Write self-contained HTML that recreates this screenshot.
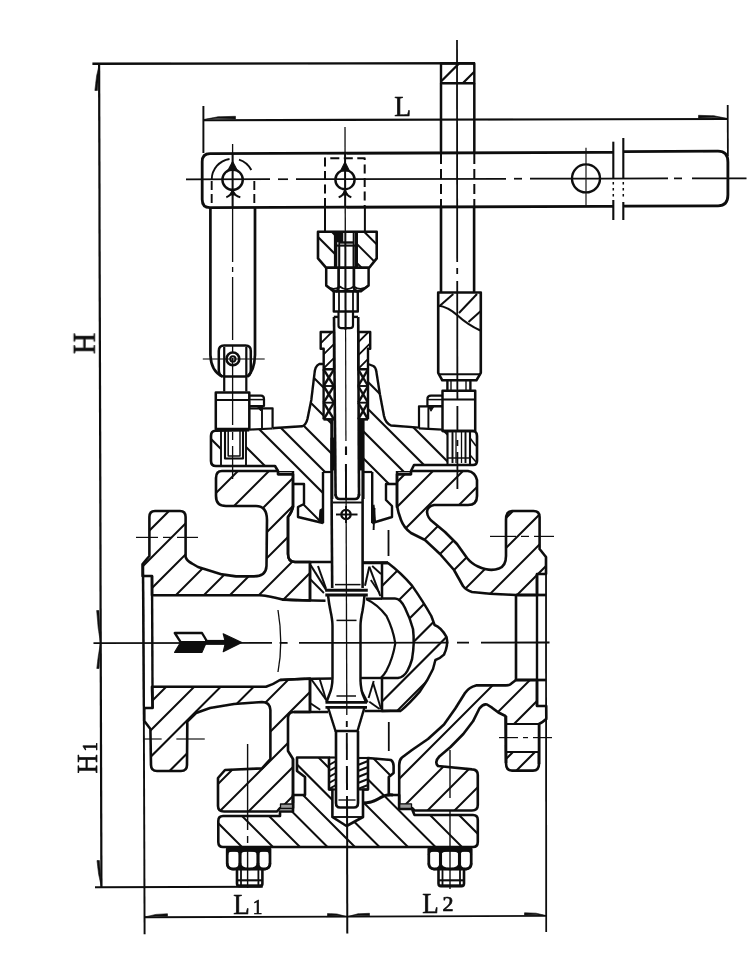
<!DOCTYPE html><html><head><meta charset="utf-8"><title>Valve drawing</title><style>html,body{margin:0;padding:0;background:#fff;}body{width:750px;height:967px;overflow:hidden;font-family:"Liberation Serif",serif;}svg{display:block;will-change:transform;}text{stroke:#0c0c0c;stroke-width:0.7px;fill:#0c0c0c;}g.t{opacity:0.999;}</style></head><body><svg width="750" height="967" viewBox="0 0 750 967" fill="none" stroke="#0c0c0c" stroke-linecap="butt" stroke-linejoin="round" font-family="'Liberation Serif', serif"><defs><filter id="soft" x="0" y="0" width="750" height="967" filterUnits="userSpaceOnUse"><feGaussianBlur stdDeviation="0.38"/></filter><clipPath id="c1"><path d="M318 231.7L335.6 231.7L335.6 267.8L326.2 267.8L318 258.4Z"/></clipPath><clipPath id="c2"><path d="M356.5 231.7L376.7 231.7L376.7 258.4L369.2 267.8L356.5 267.8Z"/></clipPath><clipPath id="c3"><path d="M320.7 332L334 332L334 369.3L323.7 369.3L323.7 348.7L320.7 348.7Z"/></clipPath><clipPath id="c4"><path d="M358.2 332L370.2 332L370.2 348.7L368 348.7L368 369.3L358.2 369.3Z"/></clipPath><clipPath id="c5"><path d="M441 63.5L474.3 63.5L474.3 83.3L441 83.3Z"/></clipPath><clipPath id="c6"><path d="M319.3 364Q315 366 314.5 373.3L311.3 400L307.5 418.7Q306 425 302 426.3L275 428L272.6 428.5L249.3 429.5L246 430.5L246 466L275 466L278 471L293 471L293 484L304 484L304 504L298 507L298 517L323 523L323 472L331.8 472L331.8 419.3L323.6 419.3L323.6 364Z"/></clipPath><clipPath id="c7"><path d="M221 430.5L215.5 430.8Q211 431 211 436L211 461Q211 466 216 466L221 466Z"/></clipPath><clipPath id="c8"><path d="M368.7 364L373.3 366Q376 367.5 376.4 372L380 394.7L384 416Q385.5 423 391 425.5L419 427.6L444 429.5L447 430.5L447 465L414 465L411 471L397 471L397 484L386 484L386 500L392 506L392 517L372.2 523L372.2 472L363 472L363 419.3L368 419.3Z"/></clipPath><clipPath id="c9"><path d="M222 471L278 471L278 474.3L293 474.3L293 506Q292.5 511 288 517L288 554Q288 562 295 562L310 562L310 600.5L282.5 599.6Q270 596 260 595.3L152 595.3L152 576L142.6 576L142.6 564L149.4 556L149.4 517Q149.4 511 155 511L180 511Q185.6 511 185.6 517L185.6 557Q187 561 192 563.5L198 567L222 574.4L236 576.4L254 576.4Q266 576.4 266.5 566L267 520Q267 506 256 506L226 506Q216 506 216 496L216 478Q216 471 222 471Z"/></clipPath><clipPath id="c10"><path d="M152 686.8L266 686.8Q274 684 280 680L310 678.5L310 712L294 712Q288 712 288 718L288 751L293 759L293 808L280 808L277 811.5L224 811.5Q218 811.5 218 806L218 778L225 770L262 768.4L270.4 759L270.4 710Q270 702 262 702L234 704L210 708L196 713L187.3 721.5L187 765Q187 771 181 771L157 771Q151 771 151 765L150.4 729L144.3 721L144.3 708L152.6 708Z"/></clipPath><clipPath id="c11"><path d="M397 474.3L411 474.3L411 471L468 471Q475 472 477 480L477 496Q477 505 468 505L434 505Q427.5 506 427 512Q427.5 518 433 522L445 532L457 544L467 558Q472 564 478 566.5Q490 572 499 568.5Q506 566 506 556L506 520Q506 511 512 511L533.5 511Q539.6 511 539.6 517L539.6 549L546 557L546 574L537 574L537 595L516 595L490 593.8L472 592Q466 590 463 586L454 570L440 554L425 540L411 533Q404 528 401 520Q398 512 397 506Z"/></clipPath><clipPath id="c12"><path d="M516 680L512 683Q510 685.4 506 685.4L476 685.4Q469 687 465 693L455.3 708.5L444 724.5L428 739L412 750L402 757.5Q399.2 760 399.2 765L399.2 808L412 808L414.5 810.5L472 810.5Q477.8 810.5 477.8 805L477.8 775Q477.8 769.6 472 769.4L438 766Q434 762 439.3 756.5L450.5 747L463.3 734L473 721.3L479.4 708.5Q483 703.5 487 704.5L492 707.7Q498 713 505.5 716L506 763Q506 770.6 512 770.6L533 770.6Q539 770.6 539 764L539 724Q543 722 546.3 719L546.2 706L537 706L537 680Z"/></clipPath><clipPath id="c13"><path d="M382 563L388 563Q401 572.8 412 585.6Q423.3 601.7 431.3 616L434.6 625Q441 627.3 446.6 637Q448.5 645 444 654.6Q440 658.5 435.4 660L433 669Q428 680 420 691.4Q409 704 401 710.6L382 711L382 678L398 678Q404 677 407.3 671Q410.5 665 412 659.4Q414.8 643.3 413 629Q410 618 405 608Q400.5 598.5 395 598.5L382 598.5Z"/></clipPath><clipPath id="c14"><path d="M223 816L280 816L280 811.5L293 811.5L293 795L305 795L305 777L297 771L297 757.5L329 757.5L329 789.5L332.4 789.5L332.4 817L346.5 826L363 817L363 789.5L368 789.5L368 758L391 760Q393.6 762 393.6 766L393.6 773L388.8 777L388.8 795L399.2 795L399.2 809L412 809L414.5 815L473 815Q477.8 815 477.8 820L477.8 842Q477.8 847 473 847L223 847Q218.3 847 218.3 842L218.3 821Q218.3 816 223 816Z"/></clipPath></defs><rect x="0" y="0" width="750" height="967" fill="#fff" stroke="none"/><g filter="url(#soft)"><path d="M92.4 63.8L475 63.2" stroke-width="2.4" />
<path d="M99.1 63.7L101.4 887.3" stroke-width="2.2" />
<path d="M95 887.3L262.7 886.8" stroke-width="2" />
<path d="M99.4 64L97.4 90.5L94.9 90.5L96.6 76Z" fill="#0c0c0c" stroke-width="0.6" />
<path d="M101.4 887L99.4 860.5L97 860.5L98.6 874Z" fill="#0c0c0c" stroke-width="0.6" />
<path d="M100.5 643L98.9 610.5L96.7 610.5L98.2 628Z" fill="#0c0c0c" stroke-width="0.6" />
<path d="M100.5 643L99 668.5L96.8 668.5L98.3 656Z" fill="#0c0c0c" stroke-width="0.6" />
<path d="M203.3 120.2L727.7 119" stroke-width="2.1" />
<path d="M203.4 106L203.4 153" stroke-width="1.9" />
<path d="M727.7 105L727.9 156" stroke-width="1.8" />
<path d="M203.5 119.6L218 118.6L235.5 118.9L235.5 116.3L218 116.8Z" fill="#0c0c0c" stroke-width="0.6" />
<path d="M727.5 118.5L714 117.6L698.5 118L698.5 115.3L714 115.8Z" fill="#0c0c0c" stroke-width="0.6" />
<path d="M144.5 917.3L546.2 915.9" stroke-width="1.9" />
<path d="M144.7 917L156 916L167.5 916.3L167.5 913.8L156 914.4Z" fill="#0c0c0c" stroke-width="0.6" />
<path d="M346.8 916.6L337 915.8L327.5 916L327.5 913.6L337 914Z" fill="#0c0c0c" stroke-width="0.6" />
<path d="M347.4 916.6L358 915.6L369.5 915.8L369.5 913.3L358 913.8Z" fill="#0c0c0c" stroke-width="0.6" />
<path d="M546 915.6L536 914.8L524.5 915.1L524.5 912.8L536 913.2Z" fill="#0c0c0c" stroke-width="0.6" />
<path d="M143.3 564L144.6 934.3" stroke-width="1.9" />
<path d="M142.8 564L144 721" stroke-width="2.2" />
<path d="M546 557L546.2 932" stroke-width="1.8" />
<text x="0" y="0" font-size="30.5" transform="translate(394.3 115.8) scale(0.9 1)">L</text>
<text x="0" y="0" font-size="30" transform="translate(233.3 913.9) scale(0.9 1)">L</text>
<text x="0" y="0" font-size="21.5" transform="translate(252.8 913.9) scale(0.9 1)">1</text>
<text x="0" y="0" font-size="30" transform="translate(422.2 912.5) scale(0.9 1)">L</text>
<text x="0" y="0" font-size="20" transform="translate(442.6 910.6) scale(1.1 1)">2</text>
<text x="0" y="0" font-size="32.6" transform="translate(94.8 354) rotate(-90) scale(0.9 1)">H</text>
<text x="0" y="0" font-size="29.6" transform="translate(97.4 773.4) rotate(-90) scale(0.9 1)">H</text>
<text x="0" y="0" font-size="20.7" transform="translate(96.5 751.5) rotate(-90) scale(0.9 1)">1</text>
<path d="M93.5 643.2L272 642.9" stroke-width="1.8" />
<path d="M279.6 642.9L287.6 642.9" stroke-width="1.8" />
<path d="M299 642.9L448.5 642.7" stroke-width="1.8" />
<path d="M457 642.7L469 642.6" stroke-width="1.8" />
<path d="M481 642.6L549.5 642.5" stroke-width="1.8" />
<path d="M345 127L345.3 231" stroke-width="1.3" />
<path d="M345.3 233L345.6 330" stroke-width="2" />
<path d="M345.6 330L345.9 441" stroke-width="1.2" />
<path d="M346 446.5L346 455" stroke-width="2.1" />
<path d="M346 464L346.8 715" stroke-width="1.3" />
<path d="M346.8 721L346.8 727" stroke-width="1.9" />
<path d="M346.8 733L346.9 760" stroke-width="1.9" />
<path d="M346.9 766L347 790" stroke-width="2" />
<path d="M347 796L347.2 848" stroke-width="2" />
<path d="M347.1 848L347.3 933.5" stroke-width="2" />
<path d="M186 179.4L270 179.2" stroke-width="1.7" />
<path d="M278 179.2L288 179.2" stroke-width="1.7" />
<path d="M296 179.2L506 178.8" stroke-width="1.7" />
<path d="M514 178.7L522 178.7" stroke-width="1.7" />
<path d="M530 178.7L668 178.4" stroke-width="1.7" />
<path d="M674 178.4L682 178.4" stroke-width="1.7" />
<path d="M692 178.4L746.5 178.3" stroke-width="1.7" />
<path d="M345.1 153L345.2 207" stroke-width="1.9" />
<path d="M232.6 153L232.6 207" stroke-width="1.9" />
<path d="M232.6 144L232.6 262" stroke-width="1.3" />
<path d="M232.6 267L232.6 272" stroke-width="1.3" />
<path d="M232.6 277L232.6 340" stroke-width="1.3" />
<path d="M232.6 345L232.6 352" stroke-width="1.3" />
<path d="M232.6 358L232.6 425" stroke-width="1.3" />
<path d="M232.6 432L232.6 440" stroke-width="1.3" />
<path d="M232.6 446L232.6 479" stroke-width="1.3" />
<path d="M457 40L457.2 262" stroke-width="1.8" />
<path d="M457.2 268L457.2 274" stroke-width="1.8" />
<path d="M457.2 281L457.4 400" stroke-width="1.8" />
<path d="M457.4 406L457.4 432" stroke-width="1.8" />
<path d="M457.4 440L457.4 446" stroke-width="1.8" />
<path d="M457.4 452L457.4 489" stroke-width="1.8" />
<path d="M613.3 152.3L210 153.7Q202.2 153.7 202.2 161.7L202.2 199.5Q202.2 207.7 210 207.7L613.3 206.3" fill="none" stroke-width="2.8" />
<path d="M623.3 151.6L718 151.2Q727.9 151.2 727.9 162L727.9 195Q727.9 205.8 718 205.8L623.3 206.1" fill="none" stroke-width="2.8" />
<path d="M613.3 141.7L613.3 178.5" stroke-width="2.1" />
<path d="M613.3 200L613.3 220" stroke-width="2.1" />
<path d="M623.3 138L623.3 178.5" stroke-width="2.1" />
<path d="M623.3 202L623.3 220" stroke-width="2.1" />
<path d="M613.3 182L613.3 198" stroke-width="1.5" stroke-dasharray="2.5 3.5"/>
<path d="M623.3 182L623.3 198" stroke-width="1.5" stroke-dasharray="2.5 3.5"/>
<circle cx="586" cy="178.4" r="14" fill="none" stroke-width="2.4"/>
<path d="M586 147.7L586 205.5" stroke-width="1.1" />
<circle cx="232.6" cy="179.7" r="10.2" fill="none" stroke-width="2.4"/>
<path d="M232.6 161.5L237.2 170.3L228 170.3Z" fill="#0c0c0c" stroke-width="1.1" />
<path d="M226.3 197.2Q230.5 196 232.6 190.5Q234.7 196 240.3 197.2" fill="none" stroke-width="2.1" />
<path d="M232.6 190L235 195L230.2 195Z" fill="#0c0c0c" stroke-width="1.1" />
<path d="M211.7 179.5A21 21 0 0 1 229.5 159" fill="none" stroke-width="1.9" />
<path d="M239 159.6A21 21 0 0 1 251.3 170" fill="none" stroke-width="1.9" />
<path d="M211.7 181L211.7 207" stroke-width="1.9" stroke-dasharray="9 4"/>
<path d="M254.3 181L254.3 207" stroke-width="1.9" stroke-dasharray="9 4"/>
<path d="M210.4 207.7L210.4 355Q211 371 222.2 376.5" fill="none" stroke-width="2.7" />
<path d="M255 207.7L255 355Q254.4 371 247.4 376.5" fill="none" stroke-width="2.7" />
<path d="M224 345.6L245.6 345.6Q250.8 345.6 250.8 351L250.8 370Q250.8 376.5 245.6 376.5L224 376.5Q218.8 376.5 218.8 370L218.8 351Q218.8 345.6 224 345.6Z" fill="none" stroke-width="2.5" />
<circle cx="232.9" cy="358.9" r="6.4" fill="none" stroke-width="2.6"/>
<circle cx="232.9" cy="358.9" r="2.6" fill="none" stroke-width="2"/>
<path d="M202.8 359L264.7 359" stroke-width="1.1" />
<path d="M224.2 347L224.2 391.5" stroke-width="2.2" />
<path d="M246.3 347L246.3 391.5" stroke-width="2.2" />
<path d="M215.8 392.4L249.3 392.4L249.3 429L215.8 429Z" fill="none" stroke-width="2.5" />
<path d="M215.8 400L249.3 400" stroke-width="2" />
<path d="M249.3 395.6L261 395.6Q264 395.6 264 399L264 406L249.3 406" fill="none" stroke-width="2.2" />
<path d="M250 408.3L272.6 408.3L272.6 428" fill="none" stroke-width="2.2" />
<path d="M262 408.3L262 428" stroke-width="1.9" />
<path d="M257 406L263.5 406L260.5 410.5Z" fill="#0c0c0c" stroke-width="1.1" />
<path d="M249.6 399.6L263.5 399.6" stroke-width="1.5" />
<circle cx="345" cy="179.7" r="9.6" fill="none" stroke-width="2.4"/>
<path d="M345 162L349.5 171L340.5 171Z" fill="#0c0c0c" stroke-width="1.1" />
<path d="M338.7 197.2Q343 196 345 190.5Q347 196 351.3 197.2" fill="none" stroke-width="2.1" />
<path d="M345 190L347.4 195L342.6 195Z" fill="#0c0c0c" stroke-width="1.1" />
<path d="M325 207L325 158.3L364.7 158.3L364.7 207" fill="none" stroke-width="2" stroke-dasharray="9 4.5"/>
<path d="M325 207.5L325 231.7" stroke-width="2" />
<path d="M364.9 207.5L364.9 231.7" stroke-width="2" />
<path d="M318 231.7L376.7 231.7L376.7 258.4L369.2 267.8L326.2 267.8L318 258.4Z" fill="none" stroke-width="2.6" />
<path d="M335.6 231.7L335.6 267.8" stroke-width="3.4" />
<path d="M356.3 231.7L356.3 267.8" stroke-width="3.4" />
<path d="M339.2 245.6L339.2 267.8" stroke-width="2.1" />
<path d="M353.6 245.6L353.6 267.8" stroke-width="2.1" />
<path d="M335.6 245.6L356.5 245.6" stroke-width="2.1" />
<path d="M339 242.5L353.6 242.5" stroke-width="2.4" />
<path d="M337 232.5L343 232.5L343 242L337 242Z" fill="#0c0c0c" stroke-width="0.5" />
<path d="M339.2 231.7L339.2 245" stroke-width="1.8" />
<path d="M353.6 231.7L353.6 245" stroke-width="1.8" />
<path d="M81 0L1048 967M100 0L1067 967" stroke-width="2" clip-path="url(#c1)"/>
<path d="M112.9 0L1079.9 967M132.4 0L1099.4 967M93.9 0L1060.9 967" stroke-width="2" clip-path="url(#c2)"/>
<path d="M326.2 267.8L368.6 267.8L368.6 285.5L361 291.3L333.4 291.3L326.2 285.5Z" fill="none" stroke-width="2.5" />
<path d="M338.6 267.8L338.6 287Q338.6 291 336 291.3" fill="none" stroke-width="2.7" />
<path d="M353.9 267.8L353.9 287Q353.9 291 357.5 291.3" fill="none" stroke-width="2.7" />
<path d="M326.2 285.5Q333 292 339.7 286.5Q346.7 292 353.8 286.5Q361 292 368.6 285.5" fill="none" stroke-width="1.9" />
<path d="M333.8 291.3L357.8 291.3L357.8 311.5L333.8 311.5Z" fill="none" stroke-width="2.4" />
<path d="M339 291.3L339 311.5" stroke-width="1.8" />
<path d="M353 291.3L353 311.5" stroke-width="1.8" />
<path d="M338.5 311.5L338.5 325.5Q338.5 328.2 341.5 328.2L350 328.2Q353 328.2 353 325.5L353 311.5" fill="none" stroke-width="2.2" />
<path d="M333.8 316.9L338.5 316.9" stroke-width="2.4" />
<path d="M353 316.9L358 316.9" stroke-width="2.4" />
<path d="M334 316.9L335.6 496" stroke-width="2.6" />
<path d="M358.2 316.9L359 496" stroke-width="2.6" />
<path d="M320.7 332L334 332L334 369.3L323.7 369.3L323.7 348.7L320.7 348.7Z" fill="none" stroke-width="2.4" />
<path d="M358.2 332L370.2 332L370.2 348.7L368 348.7L368 369.3L358.2 369.3Z" fill="none" stroke-width="2.4" />
<path d="M-303 967L664 0M-289 967L678 0M-275 967L692 0M-261 967L706 0" stroke-width="1.9" clip-path="url(#c3)"/>
<path d="M-266.5 967L700.5 0M-253.5 967L713.5 0M-240 967L727 0M-227 967L740 0" stroke-width="1.9" clip-path="url(#c4)"/>
<path d="M323.6 369.3L323.6 419.3" stroke-width="2.4" />
<path d="M368 369.3L368 419.3" stroke-width="2.4" />
<path d="M323.6 419.3L334 419.3" stroke-width="2.4" />
<path d="M358.2 419.3L368 419.3" stroke-width="2.4" />
<path d="M323.6 369.3L334 386" stroke-width="2.4" />
<path d="M323.6 386L334 369.3" stroke-width="2.4" />
<path d="M323.6 386L334 386" stroke-width="1.9" />
<path d="M323.6 386L334 402.7" stroke-width="2.4" />
<path d="M323.6 402.7L334 386" stroke-width="2.4" />
<path d="M323.6 402.7L334 402.7" stroke-width="1.9" />
<path d="M323.6 402.7L334 419.4" stroke-width="2.4" />
<path d="M323.6 419.4L334 402.7" stroke-width="2.4" />
<path d="M323.6 419.4L334 419.4" stroke-width="1.9" />
<path d="M358.2 369.3L368 386" stroke-width="2.4" />
<path d="M358.2 386L368 369.3" stroke-width="2.4" />
<path d="M358.2 386L368 386" stroke-width="1.9" />
<path d="M358.2 386L368 402.7" stroke-width="2.4" />
<path d="M358.2 402.7L368 386" stroke-width="2.4" />
<path d="M358.2 402.7L368 402.7" stroke-width="1.9" />
<path d="M358.2 402.7L368 419.4" stroke-width="2.4" />
<path d="M358.2 419.4L368 402.7" stroke-width="2.4" />
<path d="M358.2 419.4L368 419.4" stroke-width="1.9" />
<path d="M441 63.5L474.3 63.5L474.3 83.3L441 83.3Z" fill="none" stroke-width="2.4" />
<path d="M-444.5 967L522.5 0M-421 967L546 0" stroke-width="2.2" clip-path="url(#c5)"/>
<path d="M441 83.3L441 153" stroke-width="2.5" />
<path d="M474.3 83.3L474.3 152.6" stroke-width="2.5" />
<path d="M441 154L441 207" stroke-width="2" stroke-dasharray="10 5"/>
<path d="M474.3 154L474.3 207" stroke-width="2" stroke-dasharray="10 5"/>
<path d="M441 207L441 292.5" stroke-width="2.6" />
<path d="M474.1 207L474.1 292.5" stroke-width="2.6" />
<path d="M438.2 292.5L480.8 292.5L480.8 372.8L476.4 380.3L442.3 380.3L438.2 372.8Z" fill="none" stroke-width="2.6" />
<path d="M438.2 305.5Q448 307 457 315Q468 325 480.8 330.7" fill="none" stroke-width="2.1" />
<path d="M439 306.5L453.3 294" stroke-width="2" />
<path d="M459 313L477 294" stroke-width="2" />
<path d="M468.5 322L480.8 311" stroke-width="2" />
<path d="M438.2 374.3L480.8 374.3" stroke-width="2" />
<path d="M447.4 380.3L447.4 390.5" stroke-width="2.4" />
<path d="M470.4 380.3L470.4 390.5" stroke-width="2.4" />
<path d="M451 380.3L451 390.5" stroke-width="1.4" />
<path d="M466 380.3L466 390.5" stroke-width="1.4" />
<path d="M442.5 390.8L475.2 390.8L475.2 431L442.5 431Z" fill="none" stroke-width="2.5" />
<path d="M442.5 399.5L475.2 399.5" stroke-width="2" />
<path d="M442.5 395.6L431 395.6Q427.4 395.6 427.4 399L427.4 406L442.5 406" fill="none" stroke-width="2.2" />
<path d="M442 406.3L419 406.3L419 428" fill="none" stroke-width="2.2" />
<path d="M428.4 406.3L428.4 428" stroke-width="1.9" />
<path d="M428.4 406.3L434 406.3L431 411Z" fill="#0c0c0c" stroke-width="1.1" />
<path d="M428 399.6L442 399.6" stroke-width="1.5" />
<path d="M-201 0L766 967M-170 0L797 967M-147 0L820 967M-122 0L845 967M-92 0L875 967M-64 0L903 967" stroke-width="2" clip-path="url(#c6)"/>
<path d="M-228 0L739 967" stroke-width="2" clip-path="url(#c7)"/>
<path d="M323.6 364L319.3 364Q315 366 314.5 373.3L311.3 400L307.5 418.7Q306 425 302 426.3L275 428L272.6 428.3" fill="none" stroke-width="2.4" />
<path d="M249.3 430.3L215.5 430.8Q211 431 211 436L211 461Q211 466 216 466L275 466L278 471" fill="none" stroke-width="2.6" />
<path d="M249.3 429.6L272.6 428.5" stroke-width="2.2" />
<path d="M221 431L221 466" stroke-width="1.9" />
<path d="M246 431L246 466" stroke-width="1.9" />
<path d="M225 430.5L225 458.5L243 458.5L243 430.5" fill="none" stroke-width="2.1" />
<path d="M228.2 430.5L228.2 456L240 456L240 430.5" fill="none" stroke-width="1.5" />
<path d="M278.5 471.5L292.5 471.5L292.5 475L278.5 475Z" fill="#9a9a9a" stroke-width="1.2" />
<path d="M293 471L293 508" fill="none" stroke-width="2.4" />
<path d="M293 484L304 484L304 504L298 507L298 517L323 523" fill="none" stroke-width="2.4" />
<path d="M323 472L323 523" fill="none" stroke-width="2.4" />
<path d="M323 472L331.8 472" stroke-width="2.2" />
<path d="M331.8 419.3L331.8 499" stroke-width="3.1" />
<path d="M320 510L323.4 508L323.4 523L319 522Z" fill="#0c0c0c" stroke-width="1.1" />
<path d="M-95 0L872 967M-68 0L899 967M-41 0L926 967M-14 0L953 967M13 0L980 967" stroke-width="2" clip-path="url(#c8)"/>
<path d="M368 364L373.3 366Q376 367.5 376.4 372L380 394.7L384 416Q385.5 423 391 425.5L419 427.6" fill="none" stroke-width="2.4" />
<path d="M442.5 431L473 431Q477 431.5 477 436L477 461Q477 465 473 465L414 465L411 471" fill="none" stroke-width="2.6" />
<path d="M419 428.3L442.5 429.6" stroke-width="2.2" />
<path d="M447.5 431L447.5 465" stroke-width="2.1" />
<path d="M470 431L470 465" stroke-width="2.1" />
<path d="M452.5 431L452.5 463" stroke-width="1.9" />
<path d="M465.5 431L465.5 463" stroke-width="1.9" />
<path d="M456 431L456 463" stroke-width="1.3" />
<path d="M461.5 431L461.5 463" stroke-width="1.3" />
<path d="M447.5 458L470 458" stroke-width="1.5" />
<path d="M470 438L476 446" fill="none" stroke-width="1.5" />
<path d="M470 455L477 463" fill="none" stroke-width="1.5" />
<path d="M397.5 471.5L410.5 471.5L410.5 475L397.5 475Z" fill="#9a9a9a" stroke-width="1.2" />
<path d="M397 471L397 508" fill="none" stroke-width="2.4" />
<path d="M397 484L386 484L386 500L392 506L392 517L372.2 523" fill="none" stroke-width="2.4" />
<path d="M372.2 472L372.2 523" fill="none" stroke-width="2.4" />
<path d="M363 472L372.2 472" stroke-width="2.2" />
<path d="M363 419.3L363 499" stroke-width="3.1" />
<path d="M358.6 420L362.7 420L362.7 470L358.6 470Z" fill="#0c0c0c" stroke-width="1.1" />
<path d="M331 438L334 438L334 470L331 470Z" fill="#0c0c0c" stroke-width="1.1" />
<path d="M374 505L372.2 507L372.2 523L375.5 522Z" fill="#0c0c0c" stroke-width="1.1" />
<path d="M335.6 494Q335.6 499 340 499L355 499Q359 499 359 494" fill="none" stroke-width="2.6" />
<path d="M331.6 499L332.2 588" stroke-width="2.6" />
<path d="M362.6 499L362.6 588" stroke-width="2.6" />
<path d="M333 502.5L362 502.5" stroke-width="1.9" />
<circle cx="346" cy="514.5" r="4.6" fill="none" stroke-width="2.4"/>
<path d="M336 514.5L357.5 514.5" stroke-width="1.9" />
<path d="M346 506L346 523" stroke-width="1.9" />
<path d="M345.9 464L346 499" stroke-width="1.9" />
<path d="M374.5 508L373.6 530" stroke-width="1.9" />
<path d="M-287 967L680 0M-258 967L709 0M-227 967L740 0M-196 967L771 0M-168 967L799 0M-142 967L825 0M-113 967L854 0M-84 967L883 0M-55 967L912 0" stroke-width="2" clip-path="url(#c9)"/>
<path d="M222 471L278 471L278 474.3L293 474.3L293 506Q292.5 511 288 517L288 554Q288 562 295 562L310 562L310 600.5L282.5 599.6Q270 596 260 595.3L152 595.3L152 576L142.6 576L142.6 564L149.4 556L149.4 517Q149.4 511 155 511L180 511Q185.6 511 185.6 517L185.6 557Q187 561 192 563.5L198 567L222 574.4L236 576.4L254 576.4Q266 576.4 266.5 566L267 520Q267 506 256 506L226 506Q216 506 216 496L216 478Q216 471 222 471Z" fill="none" stroke-width="2.6" />
<path d="M-114 967L853 0M-86 967L881 0M-59.5 967L907.5 0M-26.5 967L940.5 0M1 967L968 0M35 967L1002 0M64 967L1031 0M93 967L1060 0M122 967L1089 0" stroke-width="2" clip-path="url(#c10)"/>
<path d="M152 686.8L266 686.8Q274 684 280 680L310 678.5L310 712L294 712Q288 712 288 718L288 751L293 759L293 808L280 808L277 811.5L224 811.5Q218 811.5 218 806L218 778L225 770L262 768.4L270.4 759L270.4 710Q270 702 262 702L234 704L210 708L196 713L187.3 721.5L187 765Q187 771 181 771L157 771Q151 771 151 765L150.4 729L144.3 721L144.3 708L152.6 708Z" fill="none" stroke-width="2.6" />
<path d="M152 576L152.6 708" stroke-width="2.4" />
<path d="M-88 967L879 0M-63 967L904 0M-33 967L934 0M-3 967L964 0M27 967L994 0M57 967L1024 0M87 967L1054 0M117 967L1084 0M145 967L1112 0" stroke-width="2" clip-path="url(#c11)"/>
<path d="M397 474.3L411 474.3L411 471L468 471Q475 472 477 480L477 496Q477 505 468 505L434 505Q427.5 506 427 512Q427.5 518 433 522L445 532L457 544L467 558Q472 564 478 566.5Q490 572 499 568.5Q506 566 506 556L506 520Q506 511 512 511L533.5 511Q539.6 511 539.6 517L539.6 549L546 557L546 574L537 574L537 595L516 595L490 593.8L472 592Q466 590 463 586L454 570L440 554L425 540L411 533Q404 528 401 520Q398 512 397 506Z" fill="none" stroke-width="2.6" />
<path d="M211 967L1178 0M243 967L1210 0M271 967L1238 0M298 967L1265 0M320 967L1287 0M183 967L1150 0" stroke-width="2" clip-path="url(#c12)"/>
<path d="M516 680L512 683Q510 685.4 506 685.4L476 685.4Q469 687 465 693L455.3 708.5L444 724.5L428 739L412 750L402 757.5Q399.2 760 399.2 765L399.2 808L412 808L414.5 810.5L472 810.5Q477.8 810.5 477.8 805L477.8 775Q477.8 769.6 472 769.4L438 766Q434 762 439.3 756.5L450.5 747L463.3 734L473 721.3L479.4 708.5Q483 703.5 487 704.5L492 707.7Q498 713 505.5 716L506 763Q506 770.6 512 770.6L533 770.6Q539 770.6 539 764L539 724Q543 722 546.3 719L546.2 706L537 706L537 680Z" fill="none" stroke-width="2.6" />
<path d="M506.5 724L538.5 724L538.5 752L506.5 752Z" fill="#fff" stroke-width="1.1" stroke="none"/>
<path d="M506 724L539 724" stroke-width="2.2" />
<path d="M506 752L539 752" stroke-width="2.2" />
<path d="M506 716L506 763" stroke-width="2.6" />
<path d="M539 724L539 764" stroke-width="2.6" />
<path d="M537 574L537 706" stroke-width="2.4" />
<path d="M516 595L516 680" stroke-width="2.6" />
<path d="M516 595L546 595" stroke-width="2.7" />
<path d="M516 680L546 680" stroke-width="2.7" />
<path d="M136 537.4L158 537.4" stroke-width="1.2" />
<path d="M163 537.4L172 537.4" stroke-width="1.2" />
<path d="M177 537.4L198 537.4" stroke-width="1.2" />
<path d="M143 739L161.6 739" stroke-width="1.2" />
<path d="M176.4 739L204.7 739" stroke-width="1.2" />
<path d="M490 536.4L516 536.4" stroke-width="1.2" />
<path d="M521 536.4L529 536.4" stroke-width="1.2" />
<path d="M534 536.4L554 536.4" stroke-width="1.2" />
<path d="M499 737.6L518 737.6" stroke-width="1.2" />
<path d="M523 737.6L528 737.6" stroke-width="1.2" />
<path d="M533 737.6L552 737.6" stroke-width="1.2" />
<path d="M247.6 744L247.6 830" stroke-width="1.4" />
<path d="M247.6 836L247.6 843" stroke-width="1.4" />
<path d="M247.6 848L247.6 888" stroke-width="1.4" />
<path d="M450 750L450 798" stroke-width="1.4" />
<path d="M450 811L450 889" stroke-width="1.4" />
<path d="M174.8 633L202 633L206.2 640L206.2 642.3L180.8 642.3Z" fill="none" stroke-width="2.4" />
<path d="M180.6 642.3L206.4 642.3L202 652.4L174.6 652.4Z" fill="#0c0c0c" stroke-width="1.1" />
<path d="M205 642.4L226 642.4" stroke-width="5" />
<path d="M223.2 633.8L241.8 642.5L223.2 651.8L225.5 642.5Z" fill="#0c0c0c" stroke-width="1.1" />
<path d="M278 610Q283.5 643 278 672" fill="none" stroke-width="1.3" />
<path d="M325.3 590.3L367.8 590.3" stroke-width="2.9" />
<path d="M325.3 595L367.8 595" stroke-width="2.9" />
<path d="M335 584.6L360.5 584.6" stroke-width="1.5" />
<path d="M328 595Q329 604 330.5 611Q332.5 620 332.5 626L332.5 678Q332.3 688 329.5 694L326.5 702" fill="none" stroke-width="2.5" />
<path d="M364.5 595Q364 603 362.5 611Q360.5 620 360.5 626L360.5 681Q361 690 363 695L366 702" fill="none" stroke-width="2.5" />
<path d="M336.5 620.4L356.5 620.4" stroke-width="1.5" />
<path d="M336.5 696L356 696" stroke-width="1.5" />
<path d="M325.5 702.4L367 702.4" stroke-width="2.8" />
<path d="M325.5 707.4L367 707.4" stroke-width="2.8" />
<path d="M328 707.4L335.5 731L357.5 731L364.5 707.4" fill="none" stroke-width="2.4" />
<path d="M336 731L336 803Q336 807.5 340 807.5L354 807.5Q358 807.5 358 803L358 731" fill="none" stroke-width="2.6" />
<path d="M338.5 800L355.5 800" stroke-width="1.4" />
<path d="M282 599.6Q300 600.6 325.5 600.8" fill="none" stroke-width="2.5" />
<path d="M280 680Q295 678.5 331.8 678.4" fill="none" stroke-width="2.5" />
<path d="M310 562L310 600.5" stroke-width="2.4" />
<path d="M295 562L331.8 562" fill="none" stroke-width="2.5" />
<path d="M310.7 565.2L326.8 590.9" stroke-width="2.1" />
<path d="M318 566L326 588.7" stroke-width="2" />
<path d="M310 579L323.9 593" stroke-width="1.9" />
<path d="M310 678.5L310 712" stroke-width="2.4" />
<path d="M294 712L328 712" fill="none" stroke-width="2.5" />
<path d="M310.7 678.5L327.5 701.7" stroke-width="2" />
<path d="M319.5 678.5L326 699.5" stroke-width="1.9" />
<path d="M310 703L320.2 709.7" stroke-width="1.9" />
<path d="M293 506Q292.5 511 288 517L288 554Q288 562 295 562" fill="none" stroke-width="2.5" />
<path d="M1 967L968 0M32 967L999 0M61 967L1028 0M88.5 967L1055.5 0M116.5 967L1083.5 0M141 967L1108 0" stroke-width="2" clip-path="url(#c13)"/>
<path d="M382 563L388 563Q401 572.8 412 585.6Q423.3 601.7 431.3 616L434.6 625Q441 627.3 446.6 637Q448.5 645 444 654.6Q440 658.5 435.4 660L433 669Q428 680 420 691.4Q409 704 401 710.6L382 711L382 678L398 678Q404 677 407.3 671Q410.5 665 412 659.4Q414.8 643.3 413 629Q410 618 405 608Q400.5 598.5 395 598.5L382 598.5Z" fill="none" stroke-width="2.5" />
<path d="M362.6 563L388 563" stroke-width="2.5" />
<path d="M366 598.7L382 598.7" stroke-width="2.4" />
<path d="M361 678L382 678" stroke-width="2.4" />
<path d="M364.5 711L401 711" stroke-width="2.5" />
<path d="M366.4 599.3Q377 604 386.5 616Q393 629 395.3 643.3Q393 657.8 386.5 670.6Q384 675 381 677.8" fill="none" stroke-width="2.2" />
<path d="M369.3 566.7L365 585.7" stroke-width="2" />
<path d="M369.3 566.7L380.3 596" stroke-width="2" />
<path d="M372.2 566L381 574" stroke-width="1.8" />
<path d="M370.8 579.9L379.6 593" stroke-width="1.8" />
<path d="M361.2 690L367.8 702.4" stroke-width="1.9" />
<path d="M368.6 698L373.7 681" stroke-width="1.9" />
<path d="M373 682.6L381 709" stroke-width="1.9" />
<path d="M369.3 701.7L379.6 709" stroke-width="1.8" />
<path d="M388.5 530L388.5 556" stroke-width="1.8" />
<path d="M388.8 722L388.8 751" stroke-width="1.8" />
<path d="M362.6 562.4L388 562.4" stroke-width="2.4" />
<path d="M-605 0L362 967M-574 0L393 967M-547 0L420 967M-519.5 0L447.5 967M-492 0L475 967M-467.5 0L499.5 967M-439 0L528 967M-411.5 0L555.5 967M-385 0L582 967M-356 0L611 967" stroke-width="2" clip-path="url(#c14)"/>
<path d="M223 816L280 816L280 811.5L293 811.5L293 795L305 795L305 777L297 771L297 757.5L329 757.5L329 789.5L332.4 789.5L332.4 817L346.5 826L363 817L363 789.5L368 789.5L368 758L391 760Q393.6 762 393.6 766L393.6 773L388.8 777L388.8 795L399.2 795L399.2 809L412 809L414.5 815L473 815Q477.8 815 477.8 820L477.8 842Q477.8 847 473 847L223 847Q218.3 847 218.3 842L218.3 821Q218.3 816 223 816Z" fill="none" stroke-width="2.6" />
<path d="M329 757.5L336 757.5" stroke-width="2.1" />
<path d="M358 758L368 758" stroke-width="2.1" />
<path d="M329 789.5L336 789.5" stroke-width="2.1" />
<path d="M358 789.5L368 789.5" stroke-width="2.1" />
<path d="M329 765L336 761" stroke-width="1.9" />
<path d="M358 765L368 761" stroke-width="1.9" />
<path d="M329 771L336 767" stroke-width="1.9" />
<path d="M358 771L368 767" stroke-width="1.9" />
<path d="M329 777L336 773" stroke-width="1.9" />
<path d="M358 777L368 773" stroke-width="1.9" />
<path d="M329 783L336 779" stroke-width="1.9" />
<path d="M358 783L368 779" stroke-width="1.9" />
<path d="M329 789L336 785" stroke-width="1.9" />
<path d="M358 789L368 785" stroke-width="1.9" />
<path d="M332.4 817L363 817" stroke-width="1.9" />
<path d="M280.5 804L292.5 804L292.5 808.5L280.5 808.5Z" fill="#9a9a9a" stroke-width="1.3" />
<path d="M399.7 803.8L411.5 803.8L411.5 808.5L399.7 808.5Z" fill="#9a9a9a" stroke-width="1.3" />
<path d="M362 803Q372 803 379 798.5Q386 794 393 795" fill="none" stroke-width="3.1" />
<path d="M293 759L293 803" stroke-width="2.4" />
<path d="M227.2 849L270 849L270 864Q270 868 265 869.2L232.2 869.2Q227.2 868 227.2 864Z" fill="none" stroke-width="2.7" />
<path d="M240 849L240 869.2" stroke-width="3.1" />
<path d="M258 849L258 869.2" stroke-width="3.1" />
<path d="M227.2 850.3L270 850.3" stroke-width="3.1" />
<path d="M227.2 855Q227.2 850 233.6 850.5Q240 850 240 855" fill="none" stroke-width="2.1" />
<path d="M227.2 863Q227.2 869 233.6 869Q240 869 240 863" fill="none" stroke-width="2.4" />
<path d="M240 855Q240 850 249 850.5Q258 850 258 855" fill="none" stroke-width="2.1" />
<path d="M240 863Q240 869 249 869Q258 869 258 863" fill="none" stroke-width="2.4" />
<path d="M258 855Q258 850 264 850.5Q270 850 270 855" fill="none" stroke-width="2.1" />
<path d="M258 863Q258 869 264 869Q270 869 270 863" fill="none" stroke-width="2.4" />
<path d="M237 869.2L237 883.5Q237 886.3 239.5 886.3L259.9 886.3Q262.4 886.3 262.4 883.5L262.4 869.2" fill="none" stroke-width="2.6" />
<path d="M241 869.2L241 886" stroke-width="1.8" />
<path d="M258.4 869.2L258.4 886" stroke-width="1.8" />
<path d="M237 880.3L262.4 880.3" stroke-width="2.1" />
<path d="M238 885.6L261.4 885.6" stroke-width="2.6" />
<path d="M428.8 849L471.2 849L471.2 864Q471.2 868 466.2 869.2L433.8 869.2Q428.8 868 428.8 864Z" fill="none" stroke-width="2.7" />
<path d="M440.5 849L440.5 869.2" stroke-width="3.1" />
<path d="M459.5 849L459.5 869.2" stroke-width="3.1" />
<path d="M428.8 850.3L471.2 850.3" stroke-width="3.1" />
<path d="M428.8 855Q428.8 850 434.6 850.5Q440.5 850 440.5 855" fill="none" stroke-width="2.1" />
<path d="M428.8 863Q428.8 869 434.6 869Q440.5 869 440.5 863" fill="none" stroke-width="2.4" />
<path d="M440.5 855Q440.5 850 450 850.5Q459.5 850 459.5 855" fill="none" stroke-width="2.1" />
<path d="M440.5 863Q440.5 869 450 869Q459.5 869 459.5 863" fill="none" stroke-width="2.4" />
<path d="M459.5 855Q459.5 850 465.4 850.5Q471.2 850 471.2 855" fill="none" stroke-width="2.1" />
<path d="M459.5 863Q459.5 869 465.4 869Q471.2 869 471.2 863" fill="none" stroke-width="2.4" />
<path d="M438.5 869.2L438.5 883.5Q438.5 886.3 441 886.3L461.5 886.3Q464 886.3 464 883.5L464 869.2" fill="none" stroke-width="2.6" />
<path d="M442.5 869.2L442.5 886" stroke-width="1.8" />
<path d="M460 869.2L460 886" stroke-width="1.8" />
<path d="M438.5 880.3L464 880.3" stroke-width="2.1" />
<path d="M439.5 885.6L463 885.6" stroke-width="2.6" /></g></svg></body></html>
